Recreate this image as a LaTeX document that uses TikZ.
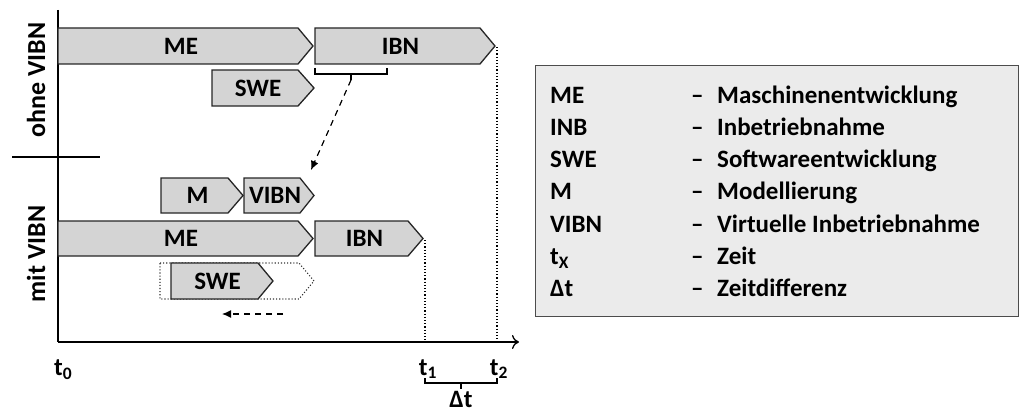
\documentclass[tikz,border=0pt]{standalone}
\usepackage{fontspec}
\setmainfont{Carlito}
\usetikzlibrary{arrows.meta}
\newcommand\phasebox[8][phase]{% #2 name, #3 left, #4 body right, #5 tip, #6 top, #7 bottom, #8 text
  \draw[#1] (#3,#6) -- (#4,#6) -- (#5,{(#6+#7)/2}) -- (#4,#7) -- (#3,#7) -- cycle;
  \node[lbl] (#2) at ({(#3+#4)/2+3},{(#6+#7)/2}) {#8};}
\begin{document}
\begin{tikzpicture}[x=1pt,y=-1pt,
  phase/.style={draw=black!85,fill=black!17,line width=1.3pt,line join=miter},
  ghost/.style={draw=black!80,dotted,line width=1.1pt},
  lbl/.style={font=\fontsize{25}{28}\selectfont\bfseries,inner sep=0pt},
  axis/.style={draw=black,line width=1.3pt},
  vdots/.style={draw=black,dotted,line width=1.2pt},
  side/.style={font=\fontsize{26}{28}\selectfont\bfseries,rotate=90,inner sep=0pt},
  leg/.style={font=\fontsize{25}{28}\selectfont\bfseries,inner sep=0pt,anchor=base west},
  brk/.style={draw=black,line width=1.2pt}]
\useasboundingbox (0,0) rectangle (1022,412);
% axes
\coordinate (ytop) at (58,10);
\coordinate (orig) at (58,342);
\coordinate (xend) at (519,342);
\draw[axis] (ytop) -- (orig);
\draw[axis,-{To[length=7pt,width=14pt]}] (orig) -- (xend);
\coordinate (sepL) at (12,157);
\coordinate (sepR) at (100,157);
\draw[axis] (sepL) -- (sepR);
\node[side] (ohne) at (36,80) {ohne VIBN};
\node[side] (mit) at (36,254) {mit VIBN};
% ohne VIBN
\phasebox{me1}{58}{298}{313}{28}{64}{ME}
\phasebox{ibn1}{315}{480}{495}{28}{64}{IBN}
\phasebox{swe1}{212}{298}{314}{70}{106}{SWE}
% bracket under IBN
\coordinate (bA) at (315,68);
\coordinate (bB) at (387,68);
\coordinate (bC) at (351,74);
\coordinate (bD) at (351,80);
\draw[brk] (bA) |- (bC) -| (bB);
\draw[brk] (bC) -- (bD);
\coordinate (arrEnd) at (311,170);
\draw[brk,dashed,dash pattern=on 6pt off 5pt,-{Latex[length=9pt,width=8pt]}] (bD) -- (arrEnd);
% mit VIBN
\phasebox{m}{161}{228}{243}{178}{213}{M}
\phasebox{vibn}{244}{300}{314}{178}{213}{VIBN}
\phasebox{me2}{58}{298}{313}{221}{256}{ME}
\phasebox{ibn2}{315}{408}{423}{221}{256}{IBN}
\draw[ghost] (160,263) -- (299,263) -- (314,281) -- (299,299) -- (160,299) -- cycle;
\phasebox{swe2}{171}{258}{273}{263}{299}{SWE}
\coordinate (shA) at (283,314);
\coordinate (shB) at (222,314);
\draw[brk,dashed,dash pattern=on 6pt off 5pt,-{Latex[length=9pt,width=8pt]}] (shA) -- (shB);
% time markers
\coordinate (t1top) at (425,240);
\coordinate (t1bot) at (425,342);
\coordinate (t2top) at (497,47);
\coordinate (t2bot) at (497,342);
\draw[vdots] (t1top) -- (t1bot);
\draw[vdots] (t2top) -- (t2bot);
\node[lbl,anchor=west] (t0) at (54,370) {t\textsubscript{0}};
\node[lbl] (t1) at (428,369) {t\textsubscript{1}};
\node[lbl] (t2) at (499,369) {t\textsubscript{2}};
\coordinate (dA) at (425,378);
\coordinate (dB) at (497,378);
\coordinate (dC) at (461,383);
\coordinate (dD) at (461,389);
\draw[brk] (dA) |- (dC) -| (dB);
\draw[brk] (dC) -- (dD);
\node[lbl] (dt) at (461,399) {Δt};
% legend
\node[draw=black!70,fill=black!8,line width=1.3pt,minimum width=483pt,minimum height=251pt,anchor=north west,inner sep=0pt] (legend) at (535,65) {};
\foreach \a/\b [count=\i from 0] in {ME/Maschinenentwicklung,INB/Inbetriebnahme,SWE/Softwareentwicklung,M/Modellierung,VIBN/Virtuelle Inbetriebnahme,t\textsubscript{X}/Zeit,Δt/Zeitdifferenz}{
  \node[leg] (la\i) at (550,{103+32.3*\i}) {\a};
  \node[leg] (ld\i) at (691,{103+32.3*\i}) {–};
  \node[leg] (lb\i) at (717,{103+32.3*\i}) {\b};
}
\end{tikzpicture}
\end{document}
